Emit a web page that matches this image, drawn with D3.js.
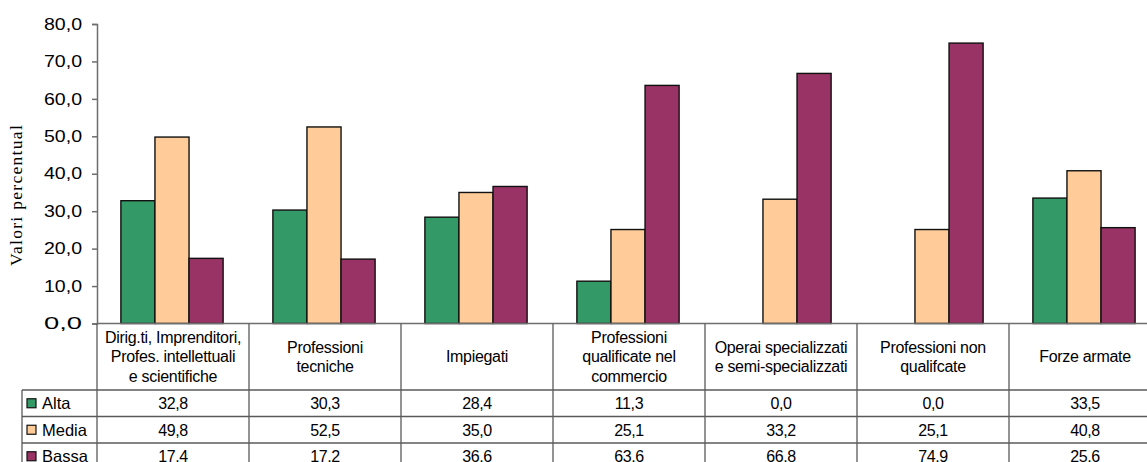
<!DOCTYPE html>
<html>
<head>
<meta charset="utf-8">
<script src="https://cdn.jsdelivr.net/npm/d3@7"></script>
<style>
  html, body { margin: 0; padding: 0; background: #fff; overflow: hidden; }
  svg { display: block; }
</style>
</head>
<body>
<svg id="chart" width="1147" height="462"></svg>
<script>
// Categorie professionali (righe multiple per le etichette della tabella)
const categories = [
  ["Dirig.ti, Imprenditori,", "Profes. intellettuali", "e scientifiche"],
  ["Professioni", "tecniche"],
  ["Impiegati"],
  ["Professioni", "qualificate nel", "commercio"],
  ["Operai specializzati", "e semi-specializzati"],
  ["Professioni non", "qualifcate"],
  ["Forze armate"]
];
const seriesNames = ["Alta", "Media", "Bassa"];
const seriesColors = ["#339966", "#FFCC99", "#993366"];
const alta  = [32.8, 30.3, 28.4, 11.3, 0.0, 0.0, 33.5];
const media = [49.8, 52.5, 35.0, 25.1, 33.2, 25.1, 40.8];
const bassa = [17.4, 17.2, 36.6, 63.6, 66.8, 74.9, 25.6];
const yTicks = [0, 10, 20, 30, 40, 50, 60, 70, 80];
const yLabel = "Valori percentual";

const values = [alta, media, bassa];
const fmt = v => v.toFixed(1).replace(".", ",");

const svg = d3.select("#chart");

// Area del grafico
const x0 = 97, step = 152;
const catIdx = d3.range(categories.length);
const x = d3.scaleBand().domain(catIdx).range([x0, x0 + step * categories.length]).padding(0);
const xs = d3.scaleBand().domain(d3.range(seriesNames.length)).range([0, step])
  .paddingInner(0).paddingOuter(0.73);
const y = d3.scaleLinear().domain([0, 80]).range([323.5, 24]);

const axisColor = "#6e6e6e";
const gridColor = "#5a5a5a";
const sans = "'Liberation Sans', Arial, sans-serif";

// Barre
const groups = svg.append("g").selectAll("g")
  .data(catIdx).join("g")
  .attr("transform", i => `translate(${x(i) - 1},0)`);
groups.selectAll("rect")
  .data(i => seriesNames.map((s, k) => ({ k, v: values[k][i] })))
  .join("rect")
  .attr("x", d => xs(d.k))
  .attr("width", xs.bandwidth())
  .attr("y", d => y(d.v))
  .attr("height", d => y(0) - y(d.v))
  .attr("fill", d => seriesColors[d.k])
  .attr("stroke", "#111")
  .attr("stroke-width", 1.4)
  .attr("display", d => d.v > 0 ? null : "none");

// Asse Y
const yAxis = svg.append("g")
  .attr("transform", `translate(${x0},0)`)
  .call(d3.axisLeft(y).tickValues(yTicks).tickSize(5).tickPadding(10).tickFormat(fmt));
yAxis.select(".domain").attr("stroke", axisColor).attr("stroke-width", 1.5);
yAxis.selectAll(".tick line").attr("stroke", axisColor).attr("stroke-width", 1.5);
yAxis.selectAll(".tick text")
  .attr("font-family", sans)
  .attr("font-size", 16)
  .attr("fill", "#000")
  .attr("textLength", 38)
  .attr("lengthAdjust", "spacingAndGlyphs");

// Linea dell'asse X
svg.append("line")
  .attr("x1", x0).attr("x2", 1147)
  .attr("y1", y(0)).attr("y2", y(0))
  .attr("stroke", axisColor).attr("stroke-width", 1.5);

// Titolo asse Y
svg.append("text")
  .attr("transform", "translate(22,195) rotate(-90)")
  .attr("text-anchor", "middle")
  .attr("font-family", "'Liberation Serif', 'Times New Roman', serif")
  .attr("font-size", 17.5)
  .attr("letter-spacing", 1.3)
  .text(yLabel);

// Tabella dei dati
const headerTop = y(0), headerBottom = 390;
const rowH = 26.5;
const tableLeft = 22;
const tbl = svg.append("g");

// linee verticali delle colonne
catIdx.forEach(i => {
  tbl.append("line")
    .attr("x1", x(i)).attr("x2", x(i))
    .attr("y1", headerTop).attr("y2", 462)
    .attr("stroke", gridColor).attr("stroke-width", 1.3);
});
tbl.append("line")
  .attr("x1", tableLeft).attr("x2", tableLeft)
  .attr("y1", headerBottom).attr("y2", 462)
  .attr("stroke", gridColor).attr("stroke-width", 1.3);

// linee orizzontali delle righe
seriesNames.forEach((s, k) => {
  tbl.append("line")
    .attr("x1", tableLeft).attr("x2", 1147)
    .attr("y1", headerBottom + k * rowH).attr("y2", headerBottom + k * rowH)
    .attr("stroke", gridColor).attr("stroke-width", 1.3);
});

// intestazioni delle categorie
const lineH = 19.5;
const headerMid = (headerTop + headerBottom) / 2;
catIdx.forEach(i => {
  const lines = categories[i];
  const t = tbl.append("text")
    .attr("text-anchor", "middle")
    .attr("font-family", sans)
    .attr("font-size", 16)
    .attr("letter-spacing", -0.3)
    .attr("fill", "#000");
  lines.forEach((ln, j) => {
    t.append("tspan")
      .attr("x", x(i) + step / 2)
      .attr("y", headerMid + (j - (lines.length - 1) / 2) * lineH)
      .attr("dy", "0.35em")
      .text(ln);
  });
});

// righe delle serie: legenda e valori
seriesNames.forEach((s, k) => {
  const cy = headerBottom + k * rowH + rowH / 2;
  tbl.append("rect")
    .attr("x", 27).attr("y", cy - 4.5)
    .attr("width", 9).attr("height", 9)
    .attr("fill", seriesColors[k])
    .attr("stroke", "#111").attr("stroke-width", 1.2);
  tbl.append("text")
    .attr("x", 42).attr("y", cy).attr("dy", "0.36em")
    .attr("font-family", sans).attr("font-size", 16.5)
    .text(s);
  catIdx.forEach(i => {
    tbl.append("text")
      .attr("x", x(i) + step / 2).attr("y", cy).attr("dy", "0.36em")
      .attr("text-anchor", "middle")
      .attr("font-family", sans).attr("font-size", 16)
      .attr("letter-spacing", -0.4)
      .text(fmt(values[k][i]));
  });
});
</script>
</body>
</html>
